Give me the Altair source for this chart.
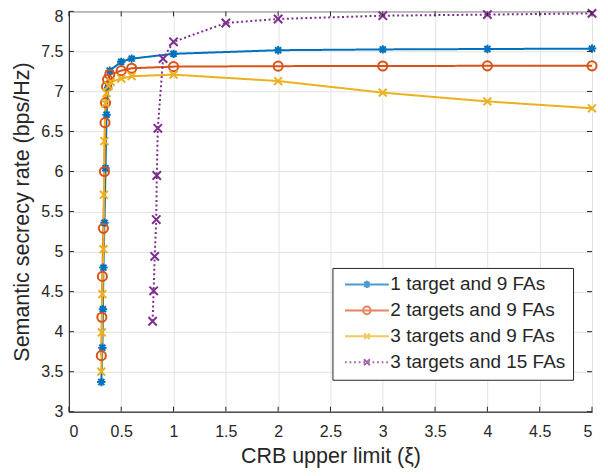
import altair as alt
import pandas as pd

# ---- data ----
names = ["1 target and 9 FAs", "2 targets and 9 FAs", "3 targets and 9 FAs", "3 targets and 15 FAs"]

x1 = [0.31, 0.32, 0.325, 0.33, 0.34, 0.35, 0.36, 0.375, 0.39, 0.5, 0.6, 1, 2, 3, 4, 5]
y1 = [3.37, 3.80, 4.28, 4.80, 5.36, 6.04, 6.71, 7.05, 7.26, 7.37, 7.41, 7.47, 7.515, 7.525, 7.53, 7.535]

x2 = [0.31, 0.315, 0.32, 0.33, 0.34, 0.345, 0.35, 0.36, 0.37, 0.39, 0.5, 0.6, 1, 2, 3, 4, 5]
y2 = [3.70, 4.18, 4.69, 5.29, 6.00, 6.61, 6.86, 7.06, 7.15, 7.21, 7.26, 7.29, 7.31, 7.316, 7.318, 7.32, 7.32]

x3 = [0.31, 0.315, 0.32, 0.33, 0.335, 0.34, 0.35, 0.36, 0.38, 0.4, 0.5, 0.6, 1, 2, 3, 4, 5]
y3 = [3.50, 3.99, 4.47, 5.03, 5.71, 6.38, 6.85, 6.98, 7.07, 7.12, 7.16, 7.19, 7.21, 7.13, 6.985, 6.875, 6.79]

x4 = [0.80, 0.81, 0.82, 0.835, 0.84, 0.85, 0.9, 1, 1.5, 2, 3, 4, 5]
y4 = [4.13, 4.51, 4.94, 5.40, 5.95, 6.54, 7.41, 7.62, 7.855, 7.905, 7.946, 7.96, 7.975]

x_ticks = [0, 0.5, 1, 1.5, 2, 2.5, 3, 3.5, 4, 4.5, 5]
y_ticks = [3, 3.5, 4, 4.5, 5, 5.5, 6, 6.5, 7, 7.5, 8]

# ---- styles ----
colors = ["#0072BD", "#D95319", "#EDB120", "#7E2F8E"]
dashes = [[1, 0], [1, 0], [1, 0], [2, 2.6]]
marker_paths = [
    "M-1,0L1,0M0,-1L0,1M-0.72,-0.72L0.72,0.72M-0.72,0.72L0.72,-0.72",
    "M1,0A1,1 0 1,1 -1,0A1,1 0 1,1 1,0Z",
    "M-0.8,-0.8L0.8,0.8M-0.8,0.8L0.8,-0.8",
    "M-0.8,-0.8L0.8,0.8M-0.8,0.8L0.8,-0.8",
]
marker_sizes = [70, 110, 60, 70]

L = 5.5
def dotted(L):
    segs = []
    p = -L
    while p < L:
        segs.append(f"M{p:.2f},0L{min(p + 0.45, L):.2f},0")
        p += 1.15
    return "".join(segs)

legend_paths = [
    f"M-{L},0L{L},0M0,-0.9L0,0.9M-0.9,0L0.9,0M-0.65,-0.65L0.65,0.65M-0.65,0.65L0.65,-0.65",
    f"M-{L},0L{L},0M0.95,0A0.95,0.95 0 1,1 -0.95,0A0.95,0.95 0 1,1 0.95,0",
    f"M-{L},0L{L},0M-0.7,-0.7L0.7,0.7M-0.7,0.7L0.7,-0.7",
    dotted(L) + "M-0.75,-0.75L0.75,0.75M-0.75,0.75L0.75,-0.75",
]

rows = []
for name, xs_, ys_ in zip(names, [x1, x2, x3, x4], [y1, y2, y3, y4]):
    for i, (xv, yv) in enumerate(zip(xs_, ys_)):
        rows.append({"series": name, "x": xv, "y": yv, "i": i})
df = pd.DataFrame(rows)

W, H = 524, 401
xs = alt.Scale(domain=[0, 5], nice=False)
ys = alt.Scale(domain=[3, 8], nice=False)

xaxis = alt.Axis(values=x_ticks, format="~g", title="CRB upper limit (ξ)", grid=True,
                 ticks=False, labelPadding=12, titlePadding=6)
yaxis = alt.Axis(values=y_ticks, format="~g", title="Semantic secrecy rate (bps/Hz)", grid=True,
                 ticks=False, labelPadding=6, titlePadding=7,
                 labelOffset={"condition": {"test": "datum.value == 8", "value": 5}, "value": 0})

base = alt.Chart(df)

lines = base.mark_line(strokeWidth=2).encode(
    x=alt.X("x:Q", scale=xs, axis=xaxis),
    y=alt.Y("y:Q", scale=ys, axis=yaxis),
    color=alt.Color("series:N", scale=alt.Scale(domain=names, range=colors), legend=None),
    strokeDash=alt.StrokeDash("series:N", scale=alt.Scale(domain=names, range=dashes), legend=None),
    order="i:Q",
)

points = base.mark_point(filled=False, strokeWidth=2, opacity=1).encode(
    x=alt.X("x:Q", scale=xs),
    y=alt.Y("y:Q", scale=ys),
    color=alt.Color("series:N", scale=alt.Scale(domain=names, range=colors), legend=None),
    shape=alt.Shape("series:N", scale=alt.Scale(domain=names, range=marker_paths), legend=None),
    size=alt.Size("series:N", scale=alt.Scale(domain=names, range=marker_sizes), legend=None),
)

def make_legend():
    return alt.Legend(title=None, orient="none", legendX=264, legendY=257,
                      symbolSize=64, symbolStrokeWidth=2,
                      symbolOffset=18, labelOffset=14, labelLimit=400,
                      labelFontSize=19, labelColor="#262626",
                      labelFont="Liberation Sans",
                      rowPadding=6, padding=7,
                      strokeColor="#262626", fillColor="white")

leg_df = pd.DataFrame({"series": names, "x": [-1] * 4, "y": [0] * 4})
legend_layer = alt.Chart(leg_df).mark_point(filled=False, strokeWidth=2, size=64, clip=True).encode(
    x=alt.X("x:Q", scale=xs),
    y=alt.Y("y:Q", scale=ys),
    color=alt.Color("series:N", scale=alt.Scale(domain=names, range=colors), legend=make_legend()),
    shape=alt.Shape("series:N", scale=alt.Scale(domain=names, range=legend_paths), legend=make_legend()),
)

# inward tick marks on all four sides
tx = pd.DataFrame({"x": x_ticks})
ty = pd.DataFrame({"y": y_ticks})
tk_bottom = alt.Chart(tx).mark_rule(color="#262626", strokeWidth=1).encode(
    x=alt.X("x:Q", scale=xs), y=alt.value(H), y2=alt.value(H - 5))
tk_top = alt.Chart(tx).mark_rule(color="#262626", strokeWidth=1).encode(
    x=alt.X("x:Q", scale=xs), y=alt.value(0), y2=alt.value(5))
tk_left = alt.Chart(ty).mark_rule(color="#262626", strokeWidth=1).encode(
    y=alt.Y("y:Q", scale=ys), x=alt.value(0), x2=alt.value(5))
tk_right = alt.Chart(ty).mark_rule(color="#262626", strokeWidth=1).encode(
    y=alt.Y("y:Q", scale=ys), x=alt.value(W), x2=alt.value(W - 5))

chart = alt.layer(lines, points, tk_bottom, tk_top, tk_left, tk_right, legend_layer).resolve_scale(
    color="independent", shape="independent", strokeDash="independent", size="independent"
).properties(
    width=W, height=H,
    autosize=alt.AutoSizeParams(type="none"),
    padding={"left": 61, "top": 3, "right": 8, "bottom": 56},
).configure(
    font="Liberation Sans",
).configure_axis(
    labelFontSize=16, labelColor="#262626", titleFontSize=21.5, titleColor="#262626",
    titleFontWeight="normal", domainColor="#262626", gridColor="#e3e3e3", gridWidth=1,
    labelFont="Liberation Sans", titleFont="Liberation Sans",
).configure_view(
    stroke="#262626", strokeWidth=1,
)

chart.save("out.html", embed_options={"renderer": "svg", "actions": False})
